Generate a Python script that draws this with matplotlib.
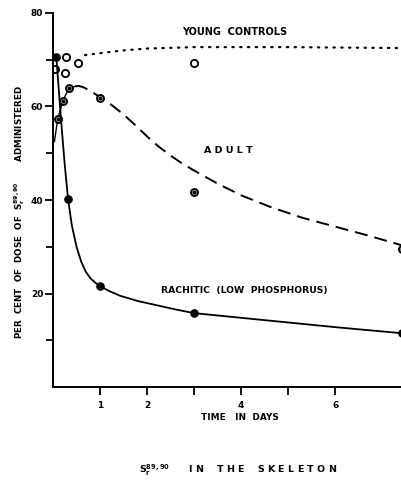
import matplotlib
matplotlib.use("Agg")
from matplotlib import pyplot as plt

# Sr 89,90 retained in the skeleton (per cent of dose)
young_t = [0.04, 0.26, 0.28, 0.53, 3.0]
young_v = [68.0, 67.2, 70.6, 69.3, 69.3]
young_curve_t = [0.68, 1.0, 1.5, 2.0, 3.0, 5.0, 7.42]
young_curve_v = [71.0, 71.4, 72.0, 72.4, 72.7, 72.7, 72.5]

adult_t = [0.1, 0.21, 0.34, 1.0, 3.0, 7.42]
adult_v = [57.3, 61.2, 64.0, 61.8, 41.7, 29.5]
adult_lead_t = [0.03, 0.1, 0.21, 0.34, 0.47]
adult_lead_v = [52.5, 57.3, 61.2, 64.0, 64.3]
adult_curve_t = [0.47, 0.55, 0.65, 0.8, 1.0, 1.25, 1.5, 1.75, 2.0, 2.25, 2.5, 2.75, 3.0,
                 3.5, 4.0, 4.6, 5.3, 6.0, 6.7, 7.42]
adult_curve_v = [64.3, 64.4, 64.1, 63.3, 62.0, 60.3, 58.3, 56.0, 53.6, 51.4, 49.5, 47.8, 46.3,
                 43.5, 41.0, 38.6, 36.2, 34.3, 32.4, 30.3]

rach_t = [0.07, 0.32, 1.0, 3.0, 7.42]
rach_v = [70.6, 40.2, 21.6, 15.8, 11.5]
rach_curve_t = [0.07, 0.12, 0.18, 0.25, 0.32, 0.4, 0.5, 0.6, 0.7, 0.8, 0.9, 1.0, 1.2, 1.43,
                1.8, 2.2, 2.6, 3.0, 4.0, 5.0, 6.0, 7.42]
rach_curve_v = [70.6, 64.0, 56.0, 47.5, 40.2, 34.6, 30.0, 26.8, 24.6, 23.2, 22.3, 21.6, 20.5, 19.5,
                18.4, 17.5, 16.6, 15.8, 14.8, 13.8, 12.8, 11.5]

x_ticks = [1, 2, 3, 4, 5, 6]
x_labels = ["1", "2", "", "4", "", "6"]
y_major = [20, 40, 60, 80]
y_minor = [10, 30, 50, 70]

W, H = 402, 486
fig = plt.figure(figsize=(W / 100, H / 100), dpi=100)
ax = fig.add_axes([53 / W, 1 - 387 / H, (W - 53) / W, (387 - 13) / H])

bold = dict(fontweight="bold", family="DejaVu Sans")

# young controls
ax.plot(young_curve_t, young_curve_v, color="black", lw=1.6, linestyle=(0, (0.6, 2.9)),
        dash_capstyle="round")
ax.plot(young_t, young_v, "o", ms=5.2, mfc="white", mec="black", mew=1.3)

# adult
ax.plot(adult_lead_t, adult_lead_v, color="black", lw=1.0)
ax.plot(adult_curve_t, adult_curve_v, color="black", lw=1.4, linestyle=(0, (6.7, 3.6)))
ax.plot(adult_t, adult_v, "o", ms=5, mfc="white", mec="black", mew=1.4)
ax.plot(adult_t, adult_v, "o", ms=2, color="black")

# rachitic
ax.plot(rach_curve_t, rach_curve_v, color="black", lw=1.3)
ax.plot(rach_t, rach_v, "o", ms=5.2, color="black")

ax.text(3.87, 75.9, "YOUNG  CONTROLS", ha="center", va="center", fontsize=7, **bold)
ax.text(3.72, 50.5, "A D U L T", ha="center", va="center", fontsize=6.8, **bold)
ax.text(4.06, 20.7, "RACHITIC  (LOW  PHOSPHORUS)", ha="center", va="center", fontsize=6.7, **bold)

ax.set_xlim(0, 7.42)
ax.set_ylim(0, 80)
ax.set_xticks(x_ticks)
ax.set_xticklabels(x_labels, fontsize=6.5, fontweight="bold")
ax.set_yticks(y_major)
ax.set_yticklabels([str(v) for v in y_major], fontsize=6.5, fontweight="bold")
ax.set_yticks(y_minor, minor=True)
ax.tick_params(axis="x", direction="out", length=6, width=1.3, pad=4)
ax.tick_params(axis="y", direction="out", length=6, width=1.3, pad=1)
ax.tick_params(axis="y", which="minor", direction="out", length=5, width=1.3)
for side in ["top", "right"]:
    ax.spines[side].set_visible(False)
for side in ["left", "bottom"]:
    ax.spines[side].set_linewidth(1.4)

fig.text(240 / W, 1 - 418 / H, "TIME   IN  DAYS", ha="center", va="center", fontsize=6.5, **bold)
fig.text(20 / W, 1 - 212 / H,
         r"PER  CENT  OF  DOSE  OF  S$_{\mathbf{r}}^{\mathbf{89,90}}$       ADMINISTERED",
         rotation=90, ha="center", va="center", fontsize=6.3, **bold)
fig.text(238 / W, 1 - 470 / H,
         r"S$_{\mathbf{r}}^{\mathbf{89,90}}$      I N    T H E    S K E L E T O N",
         ha="center", va="center", fontsize=6.8, **bold)

fig.savefig("out.png", dpi=100)
